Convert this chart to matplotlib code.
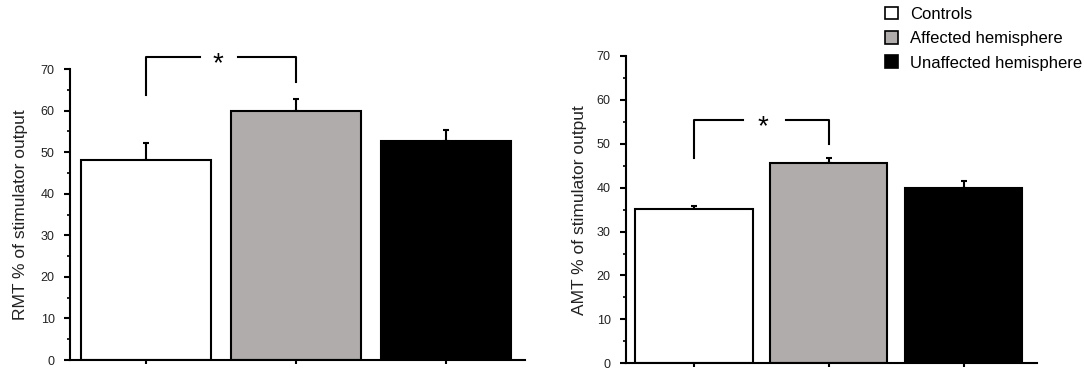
import numpy as np
import matplotlib.pyplot as plt
from matplotlib.patches import Patch

plt.rcParams['font.family'] = ['Liberation Sans', 'DejaVu Sans']

groups = ['Controls', 'Affected hemisphere', 'Unaffected hemisphere']
colors = ['white', '#b0acab', 'black']

rmt_means = [48.1, 60.0, 52.6]
rmt_errs = [4.0, 2.9, 2.7]
amt_means = [35.1, 45.6, 40.0]
amt_errs = [0.7, 1.1, 1.5]


def draw_panel(ax, means, errs, ylabel, bracket, xlim, labelpad):
    x = np.arange(len(means))
    ax.bar(x, means, width=0.87, color=colors, edgecolor='black', linewidth=1.5, zorder=2)
    ax.errorbar(x, means, yerr=[np.zeros(len(errs)), errs], fmt='none',
                ecolor='black', elinewidth=1.5, capsize=2.5, capthick=1.5, zorder=1)
    ax.set_xlim(*xlim)
    ax.set_ylim(0, 70)
    ax.set_yticks(np.arange(0, 71, 10))
    ax.set_yticks(np.arange(5, 70, 10), minor=True)
    ax.set_xticks(x)
    ax.set_xticklabels([])
    for s in ['top', 'right']:
        ax.spines[s].set_visible(False)
    for s in ['left', 'bottom']:
        ax.spines[s].set_linewidth(1.5)
    ax.tick_params(axis='y', which='major', length=4, width=1.5, labelsize=9,
                   labelcolor='#222222', pad=7)
    ax.tick_params(axis='y', which='minor', length=2, width=1.2)
    ax.tick_params(axis='x', length=3, width=1.5)
    ax.set_ylabel(ylabel, fontsize=12.5, color='#222222', labelpad=labelpad)

    top, left_low, right_low, gap_l, gap_r, star_x = bracket
    kw = dict(color='black', linewidth=1.5, clip_on=False)
    ax.plot([0, 0, gap_l], [left_low, top, top], **kw)
    ax.plot([gap_r, 1, 1], [top, top, right_low], **kw)
    ax.annotate('*', (star_x, top), xytext=(0, -7), textcoords='offset pixels',
                fontsize=20, ha='center', va='center', annotation_clip=False)


fig = plt.figure(figsize=(10.84, 3.71), dpi=100)
ax1 = fig.add_axes([0.0646, 0.0296, 0.4197, 0.7844])
ax2 = fig.add_axes([0.5775, 0.0208, 0.3791, 0.8283])

draw_panel(ax1, rmt_means, rmt_errs, 'RMT % of stimulator output',
           (72.8, 63.8, 66.9, 0.36, 0.613, 0.48), (-0.507, 2.527), 9)
draw_panel(ax2, amt_means, amt_errs, 'AMT % of stimulator output',
           (55.4, 46.7, 49.9, 0.364, 0.683, 0.51), (-0.505, 2.545), 7)

handles = [Patch(facecolor=c, edgecolor='black', linewidth=1.2) for c in colors]
fig.legend(handles, groups, loc='upper left', bbox_to_anchor=(0.810, 1.0),
           frameon=False, fontsize=12, handlelength=0.8, handleheight=0.8,
           handletextpad=0.72, labelspacing=0.55, borderaxespad=0)

fig.savefig('out.png', dpi=100)
